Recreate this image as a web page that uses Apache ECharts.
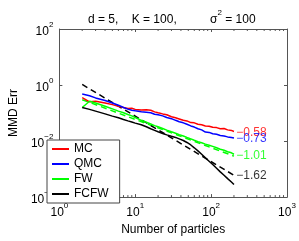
<!DOCTYPE html>
<html><head><meta charset="utf-8">
<script src="https://cdn.jsdelivr.net/npm/echarts@6/dist/echarts.min.js"></script>
<style>html,body{margin:0;padding:0;background:#fff}#c{width:299px;height:241px}</style>
</head><body><div id="c"></div>
<script>
// ---- data ----
const particles = [2, 2.5, 3, 4, 5, 6, 7, 8, 9, 10, 12, 14, 16, 18, 20, 23, 26, 30, 34, 38, 43, 48, 54, 60, 67, 75, 84, 94, 105, 118, 132, 148, 165, 185, 200];
const mcErr = [0.355, 0.251, 0.263, 0.229, 0.200, 0.174, 0.158, 0.145, 0.148, 0.135, 0.129, 0.132, 0.126, 0.110, 0.102, 0.0933, 0.0871, 0.0741, 0.0676, 0.0617, 0.0550, 0.0525, 0.0457, 0.0447, 0.0398, 0.0380, 0.0347, 0.0339, 0.0309, 0.0302, 0.0275, 0.0282, 0.0251, 0.0240, 0.0219];
const qmcErr = [0.479, 0.417, 0.347, 0.282, 0.229, 0.191, 0.158, 0.138, 0.126, 0.120, 0.112, 0.107, 0.102, 0.0912, 0.0871, 0.0794, 0.0692, 0.0631, 0.0550, 0.0490, 0.0447, 0.0398, 0.0347, 0.0316, 0.0275, 0.0251, 0.0209, 0.0204, 0.0182, 0.0174, 0.0158, 0.0151, 0.0141, 0.0135, 0.0129];
const fwErr = [0.158, 0.263, 0.229, 0.174, 0.141, 0.117, 0.102, 0.0891, 0.0794, 0.0692, 0.0550, 0.0468, 0.0407, 0.0355, 0.0324, 0.0282, 0.0245, 0.0214, 0.0191, 0.0170, 0.0151, 0.0135, 0.0120, 0.0107, 0.00955, 0.00871, 0.00776, 0.00708, 0.00646, 0.00575, 0.00513, 0.00468, 0.00417, 0.00380, 0.00339];
const fcfwErr = [0.158, 0.135, 0.117, 0.0933, 0.0776, 0.0676, 0.0589, 0.0525, 0.0479, 0.0437, 0.0380, 0.0324, 0.0275, 0.0240, 0.0214, 0.0186, 0.0166, 0.0148, 0.0135, 0.0120, 0.0105, 0.00891, 0.00724, 0.00575, 0.00447, 0.00339, 0.00251, 0.00191, 0.00145, 0.00107, 0.000794, 0.000603, 0.000457, 0.000347, 0.000282];
const fitX = [2, 200];
const fwFit = [0.30, 0.0029];
const fcfwFit = [1.05, 0.0006];
const seriesNames = ['MC', 'QMC', 'FW', 'FCFW'];
const rateLabels = ['\u22120.58', '\u22120.73', '\u22121.01', '\u22121.62'];
const rateLabelX = 214;
const rateLabelY = [0.020, 0.012, 0.00295, 0.00056];
const minorTickX = [2,3,4,5,6,7,8,9,20,30,40,50,60,70,80,90,200,300,400,500,600,700,800,900];
const titleText = 'd = 5,    K = 100,          \u03c3';

// ---- chart ----
const colors = ['#ff0000', '#0000ff', '#00ff00', '#000000'];
const FONT = 'Liberation Sans, Arial, Helvetica, sans-serif';
const AX = '#555';
function pairs(xs, ys) { return xs.map((x, i) => [x, ys[i]]); }
function supFmt(v) {
  const e = Math.round(Math.log10(v));
  return '{b|10}{s|' + (e < 0 ? '\u2212' + (-e) : e) + '}';
}
const rich = {
  b: { fontSize: 12, fontFamily: FONT, color: '#000', verticalAlign: 'bottom', lineHeight: 17 },
  s: { fontSize: 8, fontFamily: FONT, color: '#000', verticalAlign: 'top', lineHeight: 10 }
};
const errs = [mcErr, qmcErr, fwErr, fcfwErr];
const series = [];
series.push({ type: 'line', data: pairs(fitX, fwFit), symbol: 'none', silent: true,
  lineStyle: { color: '#00ff00', width: 1.5, type: [6, 4] }, z: 1 });
series.push({ type: 'line', data: pairs(fitX, fcfwFit), symbol: 'none', silent: true,
  lineStyle: { color: '#000', width: 1.5, type: [6, 4] }, z: 1 });
errs.forEach((e, i) => series.push({
  name: seriesNames[i], type: 'line', data: pairs(particles, e), symbol: 'none',
  lineStyle: { color: colors[i], width: 1.5 }, itemStyle: { color: colors[i] }, z: 2
}));
series.push({ type: 'scatter', symbolSize: 0, silent: true,
  data: rateLabelY.map((y, i) => ({ value: [rateLabelX, y],
    label: { show: true, formatter: rateLabels[i], position: [0, 0], align: 'left', verticalAlign: 'middle',
      color: colors[i], fontSize: 12, fontFamily: FONT } })) });
series.push({ type: 'custom', silent: true, data: minorTickX.map(x => [x, 1]),
  renderItem: function (params, api) {
    const cs = params.coordSys;
    const p = api.coord([api.value(0), 1]);
    return { type: 'group', children: [
      { type: 'line', shape: { x1: p[0], y1: cs.y + cs.height, x2: p[0], y2: cs.y + cs.height - 2 }, style: { stroke: AX, lineWidth: 1 } },
      { type: 'line', shape: { x1: p[0], y1: cs.y, x2: p[0], y2: cs.y + 2 }, style: { stroke: AX, lineWidth: 1 } }
    ] };
  } });

const chart = echarts.init(document.getElementById('c'), null, { renderer: 'canvas' });
chart.setOption({
  animation: false,
  backgroundColor: '#fff',
  title: { text: '{t|' + titleText + '}{s|2}{t| = 100}', left: 83, top: 4, textAlign: 'left',
    textStyle: { fontWeight: 'normal', rich: { t: { fontSize: 12, fontWeight: 'normal', fontFamily: FONT, color: '#000', verticalAlign: 'bottom', lineHeight: 17 },
      s: { fontSize: 8, fontWeight: 'normal', fontFamily: FONT, color: '#000', verticalAlign: 'top', lineHeight: 10 } } } },
  grid: { left: 44, right: 12, top: 29, bottom: 36, containLabel: false },
  legend: { data: seriesNames, orient: 'vertical', left: 47, top: 140, icon: 'rect', itemWidth: 17, itemHeight: 2,
    itemGap: 3, padding: [3, 11, 3, 5], backgroundColor: '#fff', borderColor: '#444', borderWidth: 1,
    textStyle: { fontSize: 12, fontFamily: FONT, color: '#000' }, selectedMode: false },
  xAxis: [
    { type: 'log', logBase: 10, min: 1, max: 1000, position: 'bottom',
      name: 'Number of particles', nameLocation: 'middle', nameGap: 22,
      nameTextStyle: { fontSize: 12, fontFamily: FONT, color: '#000' },
      axisLine: { lineStyle: { color: AX } }, axisTick: { inside: true, length: 3, lineStyle: { color: AX } },
      axisLabel: { formatter: supFmt, rich: rich, margin: 5 }, splitLine: { show: false } },
    { type: 'log', logBase: 10, min: 1, max: 1000, position: 'top',
      axisLine: { lineStyle: { color: AX } }, axisTick: { inside: true, length: 3, lineStyle: { color: AX } },
      axisLabel: { show: false }, splitLine: { show: false } }
  ],
  yAxis: [
    { type: 'log', logBase: 10, min: 1e-4, max: 100, interval: 2, position: 'left',
      name: 'MMD Err', nameLocation: 'middle', nameGap: 33,
      nameTextStyle: { fontSize: 12, fontFamily: FONT, color: '#000' },
      axisLine: { show: true, lineStyle: { color: AX } }, axisTick: { show: true, inside: true, length: 3, lineStyle: { color: AX } },
      axisLabel: { formatter: supFmt, rich: rich, margin: 6 }, splitLine: { show: false } },
    { type: 'log', logBase: 10, min: 1e-4, max: 100, interval: 2, position: 'right',
      axisLine: { show: true, lineStyle: { color: AX } }, axisTick: { show: true, inside: true, length: 3, lineStyle: { color: AX } },
      axisLabel: { show: false }, splitLine: { show: false } }
  ],
  series: series
});
</script></body></html>
